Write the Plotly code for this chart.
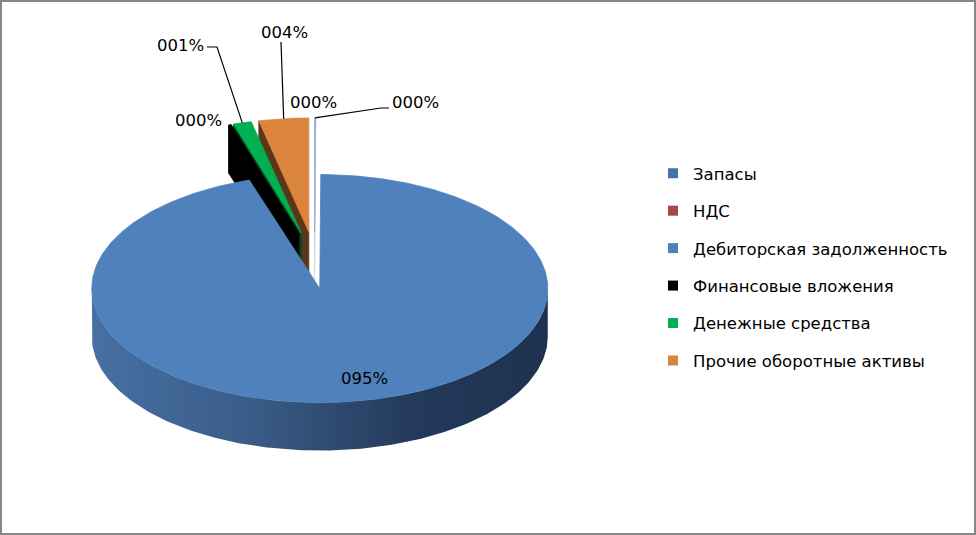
import numpy as np
import plotly.graph_objects as go

# ---------------- data ----------------
categories = ["Запасы", "НДС", "Дебиторская задолженность",
              "Финансовые вложения", "Денежные средства", "Прочие оборотные активы"]
shares = [0.04, 0.03, 94.93, 0.20, 1.28, 3.52]          # percent of total
colors = ["#4572A7", "#AA4643", "#4F81BD", "#000000", "#00B050", "#DB843D"]
explode = [0.3, 0.3, 0.2, 0.3, 0.3, 0.3]

# ---------------- geometry / layout (pixel space) ----------------
W, H = 976, 535
CX, CY = 314.5, 266.0       # pie centre before explosion
RX, RY = 228.0, 114.0       # ellipse radii of the top face
DEPTH = 48.0                # thickness of the pie
EXPLODE_XSCALE = 0.75       # horizontal damping of the explosion offset
FONT = "DejaVu Sans"
FSIZE = 16.5

label_pos = [(415, 102), (313, 102), (364, 378), (198, 120), (180, 45), (284, 32)]
leader_pts = {0: [(381, 108), (389, 108)],
              4: [(217, 47), (207, 47)],
              5: [(281, 42)]}


def darken(hexc, f):
    h = hexc.lstrip("#")
    r, g, b = (int(h[i:i + 2], 16) for i in (0, 2, 4))
    return "rgb(%d,%d,%d)" % (r * f, g * f, b * f)


def arc(c, a0, a1, dz=0.0):
    n = max(2, int(abs(a1 - a0)) + 2)
    th = np.radians(np.linspace(a0, a1, n))
    return list(c[0] + RX * np.sin(th)), list(c[1] - RY * np.cos(th) + dz)


def pt(c, a, dz=0.0):
    t = np.radians(a)
    return c[0] + RX * np.sin(t), c[1] - RY * np.cos(t) + dz


total = sum(shares)
bounds = np.concatenate([[0], np.cumsum(shares)]) / total * 360.0
mids = (bounds[:-1] + bounds[1:]) / 2

centres = []
for i, m in enumerate(mids):
    t = np.radians(m)
    centres.append((CX + explode[i] * EXPLODE_XSCALE * RX * np.sin(t),
                    CY - explode[i] * RY * np.cos(t)))

fig = go.Figure()


def poly(xs, ys, fill, lw=0.8, lc=None, grad=None):
    kw = dict(x=xs, y=ys, mode="lines", fill="toself", fillcolor=fill,
              line=dict(color=lc or fill, width=lw), hoverinfo="skip", showlegend=False)
    if grad is not None:
        kw["fillgradient"] = grad
    fig.add_trace(go.Scatter(**kw))


# draw slices from back to front
order = sorted(range(len(shares)), key=lambda i: -np.cos(np.radians(mids[i])))
for i in order:
    c = centres[i]
    a0, a1 = bounds[i], bounds[i + 1]
    side = darken(colors[i], 0.42)
    tiny = shares[i] / total < 0.002
    lw = 0.6 if tiny else 0.8
    # cut faces
    for a, vis in ((a0, np.sin(np.radians(a0)) < -1e-9), (a1, np.sin(np.radians(a1)) > 1e-9)):
        if vis:
            px, py = pt(c, a)
            qx, qy = pt(c, a, DEPTH)
            poly([c[0], px, qx, c[0], c[0]], [c[1], py, qy, c[1] + DEPTH, c[1]], side, lw=lw,
                 lc="#d8dde6" if tiny else None)
    # outer wall (front half only)
    w0, w1 = max(a0, 90.0), min(a1, 270.0)
    if w1 > w0:
        tx, ty = arc(c, w0, w1)
        bx, by = arc(c, w1, w0, DEPTH)
        grad = None
        if i == 2:
            grad = dict(type="horizontal",
                        colorscale=[[0, "#4770a3"], [0.35, "#3a5c88"], [0.7, "#243a5a"], [1, "#1e3150"]])
        poly(tx + bx + [tx[0]], ty + by + [ty[0]], side, lw=0, grad=grad)
    # top face
    ax, ay = arc(c, a0, a1)
    poly([c[0]] + ax + [c[0]], [c[1]] + ay + [c[1]], colors[i], lw=lw,
         lc="#8fa9cf" if tiny else None)

# leader lines
for i, pts in leader_pts.items():
    ox, oy = pt(centres[i], mids[i])
    fig.add_trace(go.Scatter(x=[ox] + [p[0] for p in pts], y=[oy] + [p[1] for p in pts],
                             mode="lines", line=dict(color="black", width=1.2),
                             hoverinfo="skip", showlegend=False))

# data labels
for i, v in enumerate(shares):
    fig.add_annotation(x=label_pos[i][0], y=label_pos[i][1], text="%03d%%" % round(v / total * 100),
                       showarrow=False, font=dict(family=FONT, size=FSIZE, color="black"),
                       xanchor="center", yanchor="middle")

# legend entries
for i, name in enumerate(categories):
    fig.add_trace(go.Scatter(x=[None], y=[None], mode="markers", name=name, legendgroup=name,
                             marker=dict(symbol="square", size=10, color=colors[i])))

# chart border
fig.add_shape(type="rect", xref="paper", yref="paper", x0=0.001, y0=0.002, x1=0.999, y1=0.998,
              line=dict(color="#868686", width=2), layer="above")

fig.update_layout(
    width=W, height=H, autosize=False,
    margin=dict(l=0, r=0, t=0, b=0),
    paper_bgcolor="white", plot_bgcolor="white",
    xaxis=dict(range=[0, W], visible=False, fixedrange=True),
    yaxis=dict(range=[H, 0], visible=False, fixedrange=True),
    showlegend=True,
    legend=dict(x=653 / W, y=1 - 156 / H, xanchor="left", yanchor="top",
                font=dict(family=FONT, size=FSIZE, color="black"),
                tracegroupgap=13, bgcolor="rgba(0,0,0,0)", itemclick=False, itemdoubleclick=False),
    font=dict(family=FONT),
)

fig.write_html("out.html", config={"displayModeBar": False},
               post_script="document.body.style.margin='0';")
